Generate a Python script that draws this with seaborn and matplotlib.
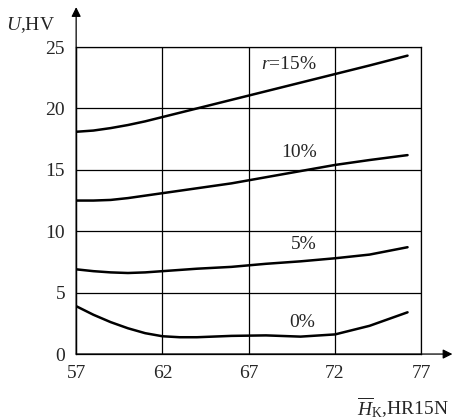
import numpy as np
import pandas as pd
import matplotlib
matplotlib.use("Agg")
import matplotlib.pyplot as plt
import seaborn as sns

# valores
hk = [57, 58, 59, 60, 61, 62, 63, 64, 66, 68, 70, 72, 74, 76.2]
u_15 = [18.1, 18.2, 18.4, 18.65, 18.95, 19.3, 19.65, 20.0, 20.7, 21.4, 22.1, 22.8, 23.5, 24.3]
u_10 = [12.5, 12.5, 12.55, 12.7, 12.9, 13.1, 13.3, 13.5, 13.9, 14.4, 14.9, 15.4, 15.8, 16.2]
u_5 = [6.9, 6.75, 6.65, 6.6, 6.65, 6.75, 6.85, 6.95, 7.1, 7.35, 7.55, 7.8, 8.1, 8.7]
u_0 = [3.9, 3.2, 2.6, 2.1, 1.7, 1.45, 1.37, 1.37, 1.48, 1.52, 1.42, 1.6, 2.3, 3.4]

series = {'r=15%': u_15, '10%': u_10, '5%': u_5, '0%': u_0}
x_ticks = [57, 62, 67, 72, 77]
y_ticks = [0, 5, 10, 15, 20, 25]

df = pd.concat([pd.DataFrame({'hk': hk, 'u': v, 'r': k}) for k, v in series.items()])

sns.set_style("white")
plt.rcParams['font.family'] = ['Liberation Serif', 'DejaVu Serif']
plt.rcParams['mathtext.fontset'] = 'custom'
plt.rcParams['mathtext.rm'] = 'Liberation Serif'
plt.rcParams['mathtext.it'] = 'Liberation Serif:italic'

fig = plt.figure(figsize=(4.56, 4.20), dpi=100)
ax = fig.add_axes([0.167, 0.157, 0.757, 0.731])

sns.lineplot(data=df, x='hk', y='u', hue='r', palette=['black'] * 4,
             linewidth=1.8, legend=False, ax=ax, sort=False)

ax.set_xlim(57, 77)
ax.set_ylim(0, 25)
ax.set_xticks(x_ticks)
ax.set_yticks(y_ticks)
ax.grid(True, color='black', linewidth=0.9)
for s in ax.spines.values():
    s.set_color('black')
    s.set_linewidth(0.9)
ax.tick_params(length=0, labelsize=14, pad=8)
ax.set_xlabel('')
ax.set_ylabel('')

# flechas de los ejes
ax.annotate('', xy=(0, 1.13), xytext=(0, 0), xycoords='axes fraction',
            arrowprops=dict(arrowstyle='-|>', color='black', lw=0.9,
                            mutation_scale=14, shrinkA=0, shrinkB=0))
ax.annotate('', xy=(1.09, 0), xytext=(0, 0), xycoords='axes fraction',
            arrowprops=dict(arrowstyle='-|>', color='black', lw=0.9,
                            mutation_scale=14, shrinkA=0, shrinkB=0))

# etiquetas de curvas
ax.text(69.3, 23.6, '$r$=15%', fontsize=14, ha='center', va='center')
ax.text(69.9, 16.4, '10%', fontsize=14, ha='center', va='center')
ax.text(70.2, 8.9, '5%', fontsize=14, ha='center', va='center')
ax.text(70.1, 2.6, '0%', fontsize=14, ha='center', va='center')

fig.text(0.12, 0.94, '$U$,HV', fontsize=14, ha='right', va='center')
fig.text(0.985, 0.03, r'$\overline{H}_{\mathrm{K}}$,HR15N', fontsize=14,
         ha='right', va='center')

plt.savefig('out.png', dpi=100)
